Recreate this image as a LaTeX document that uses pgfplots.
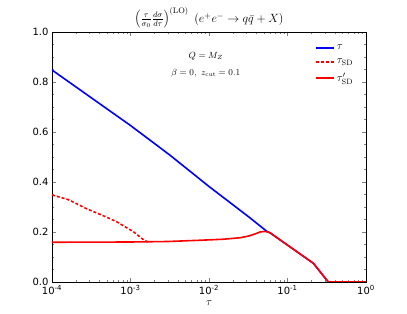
\documentclass[border=0pt]{standalone}
\usepackage{fontspec}
\usepackage{pgfplots}
\pgfplotsset{compat=1.18}
\newfontfamily\dejavu{DejaVu Sans}
\begin{document}
\begin{tikzpicture}
\path[use as bounding box] (-52bp,-32bp) rectangle (355bp,282bp);
\begin{axis}[
  scale only axis,
  width=314bp, height=250bp,
  xmode=log,
  xmin=1e-4, xmax=1, ymin=0, ymax=1,
  xtick={1e-4,1e-3,1e-2,1e-1,1},
  xticklabels={10\textsuperscript{-4},10\textsuperscript{-3},10\textsuperscript{-2},10\textsuperscript{-1},10\textsuperscript{0}},
  ytick={0,0.2,0.4,0.6,0.8,1.0},
  yticklabels={0.0,0.2,0.4,0.6,0.8,1.0},
  minor y tick num=3,
  tick label style={font=\dejavu\fontsize{10}{12}\selectfont},
  major tick length=4bp, minor tick length=2bp,
  xlabel={$\tau$},
  xlabel style={font=\fontsize{11}{13}\selectfont},
  title={$\left(\frac{\tau}{\sigma_0}\frac{d\sigma}{d\tau}\right)^{\rm (LO)}\ (e^+e^-\to q\bar q+X)$},
  title style={font=\fontsize{11.5}{13}\selectfont, yshift=-6bp},
  legend style={draw=none, fill=none, at={(rel axis cs:0.975,1.04)}, anchor=north east, row sep=4bp},
  legend cell align=left,
  legend image code/.code={\draw[line width=1.6pt, #1] (0bp,0bp) -- (18bp,0bp);},
]
\addlegendimage{empty legend}
\addlegendentry{\fontsize{11}{13}\selectfont\strut}
\addplot[draw=blue, line width=1.6pt] coordinates {
 (1e-4,0.848) (3.16e-4,0.737) (1e-3,0.626) (3.16e-3,0.508) (1e-2,0.382) (3.16e-2,0.262) (0.0543,0.203) (0.0597,0.197) (0.213,0.075) (0.331,0) (1,0)};
\addlegendentry{\fontsize{11}{13}\selectfont$\tau$}
\addplot[draw=red, line width=1.6pt, dash pattern=on 3pt off 2pt] coordinates {
 (1e-4,0.348) (1.6e-4,0.33) (2.76e-4,0.293) (4.5e-4,0.265) (6.67e-4,0.241) (1.09e-3,0.201) (1.3e-3,0.182) (1.53e-3,0.164) (1.7e-3,0.161)};
\addlegendentry{\fontsize{11}{13}\selectfont$\tau_{\rm SD}$}
\addplot[draw=red, line width=1.6pt] coordinates {
 (1e-4,0.159) (1e-3,0.160) (3e-3,0.162) (7.7e-3,0.167) (1.5e-2,0.171) (2.48e-2,0.177) (3.2e-2,0.184) (3.85e-2,0.192) (4.46e-2,0.200) (5e-2,0.202) (0.0543,0.201) (0.0597,0.197) (0.213,0.075) (0.331,0) (1,0)};
\addlegendentry{\fontsize{11}{13}\selectfont$\tau'_{\rm SD}$}
\node[font=\fontsize{9}{11}\selectfont] at (rel axis cs:0.49,0.904) {$Q=M_Z$};
\node[font=\fontsize{9}{11}\selectfont] at (rel axis cs:0.49,0.836) {$\beta=0,\ z_{\rm cut}=0.1$};
\end{axis}
\end{tikzpicture}
\end{document}
